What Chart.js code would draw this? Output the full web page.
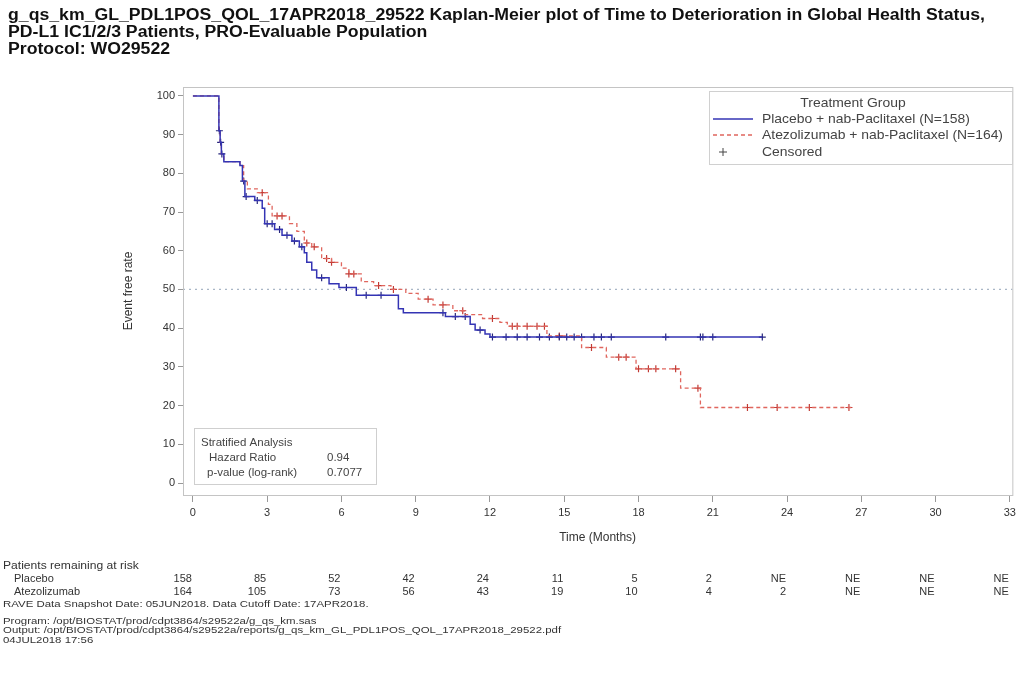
<!DOCTYPE html>
<html>
<head>
<meta charset="utf-8">
<script src="https://cdn.jsdelivr.net/npm/chart.js@4.4.1/dist/chart.umd.min.js"></script>
<style>
  html, body { margin: 0; padding: 0; background: #fff; }
  #wrap { width: 1020px; height: 681px; }
</style>
</head>
<body>
<div id="wrap"><canvas id="km" width="1020" height="681"></canvas></div>
<script>
// axis ticks
var timeTicks = [0, 3, 6, 9, 12, 15, 18, 21, 24, 27, 30, 33];
var rateTicks = [0, 10, 20, 30, 40, 50, 60, 70, 80, 90, 100];

// Kaplan-Meier steps
var placeboTime = [0, 1.05, 1.1, 1.15, 1.25, 1.9, 2.0, 2.1, 2.5, 2.8, 2.9, 3.3, 3.6, 4.0, 4.3, 4.5, 4.6, 4.8, 5.0, 5.5, 5.9, 6.6, 8.3, 8.5, 10.2, 11.2, 11.4, 11.8, 12.0, 23.0];
var placeboRate = [100, 91, 88, 85, 83, 82, 78, 74, 73, 71, 67, 65.5, 64, 62.5, 61, 59.5, 57, 55, 53, 51.5, 50.5, 48.5, 45, 44, 43, 41, 39.5, 38.5, 37.7, 37.7];

var atezoTime = [0, 1.05, 1.1, 1.15, 1.25, 1.9, 2.05, 2.2, 2.6, 3.05, 3.2, 3.9, 4.2, 4.5, 4.8, 5.2, 5.6, 6.0, 6.3, 6.8, 7.3, 8.0, 8.6, 9.1, 9.7, 10.5, 11.0, 11.7, 12.4, 12.7, 14.3, 15.7, 16.7, 17.9, 19.7, 20.5, 26.6];
var atezoRate = [100, 91, 88, 85, 83, 82, 78, 76, 75, 72, 69, 67, 65, 62, 61, 58, 57, 55.5, 54, 52, 51, 50, 49, 47.5, 46, 44.5, 43.5, 42.5, 41.5, 40.5, 38, 35, 32.5, 29.5, 24.5, 19.5, 19.5];

// censored marks
var placeboCensTime = [1.07, 1.12, 1.17, 2.05, 2.15, 2.6, 3.0, 3.2, 3.5, 3.8, 4.1, 4.4, 5.2, 6.2, 7.0, 7.6, 10.1, 10.6, 11.0, 11.6, 12.1, 12.65, 13.1, 13.5, 14.0, 14.4, 14.8, 15.1, 15.4, 15.7, 16.2, 16.5, 16.9, 19.1, 20.5, 20.6, 21.0, 23.0];
var placeboCensRate = [91, 88, 85, 78, 74, 73, 67, 67, 65.5, 64, 62.5, 61, 53, 50.5, 48.5, 48.5, 44, 43, 43, 39.5, 37.7, 37.7, 37.7, 37.7, 37.7, 37.7, 37.7, 37.7, 37.7, 37.7, 37.7, 37.7, 37.7, 37.7, 37.7, 37.7, 37.7, 37.7];
var atezoCensTime = [2.8, 3.4, 3.6, 4.6, 4.9, 5.4, 5.6, 6.3, 6.5, 7.5, 8.1, 9.5, 10.1, 10.9, 12.1, 12.9, 13.1, 13.5, 13.9, 14.2, 14.8, 16.1, 17.2, 17.5, 18.0, 18.4, 18.7, 19.5, 20.4, 22.4, 23.6, 24.9, 26.5];
var atezoCensRate = [75, 69, 69, 62, 61, 58, 57, 54, 54, 51, 50, 47.5, 46, 44.5, 42.5, 40.5, 40.5, 40.5, 40.5, 40.5, 38, 35, 32.5, 32.5, 29.5, 29.5, 29.5, 29.5, 24.5, 19.5, 19.5, 19.5, 19.5];

// patients at risk
var riskPlacebo = ['158', '85', '52', '42', '24', '11', '5', '2', 'NE', 'NE', 'NE', 'NE'];
var riskAtezo = ['164', '105', '73', '56', '43', '19', '10', '4', '2', 'NE', 'NE', 'NE'];

var medianLine = 50;
var hazardRatio = '0.94';
var pValue = '0.7077';

var titleLines = [
  'g_qs_km_GL_PDL1POS_QOL_17APR2018_29522 Kaplan-Meier plot of Time to Deterioration in Global Health Status,',
  'PD-L1 IC1/2/3 Patients, PRO-Evaluable Population',
  'Protocol: WO29522'
];
var footLines = [
  'RAVE Data Snapshot Date: 05JUN2018. Data Cutoff Date: 17APR2018.',
  'Program: /opt/BIOSTAT/prod/cdpt3864/s29522a/g_qs_km.sas',
  'Output: /opt/BIOSTAT/prod/cdpt3864/s29522a/reports/g_qs_km_GL_PDL1POS_QOL_17APR2018_29522.pdf',
  '04JUL2018 17:56'
];

var FONT = '"Liberation Sans", Arial, sans-serif';
var blue = '#3434b4';
var red = '#e0665e';

function pairs(xs, ys) {
  var out = [];
  for (var i = 0; i < xs.length; i++) out.push({ x: xs[i], y: ys[i] });
  return out;
}

// text drawn a bit wider than the font, like the SAS output
function wideText(ctx, text, x, y, sx) {
  ctx.save();
  ctx.translate(x, y);
  ctx.scale(sx, 1);
  ctx.fillText(text, 0, 0);
  ctx.restore();
}

var decor = {
  id: 'decor',
  beforeDatasetsDraw: function (chart) {
    var ctx = chart.ctx;
    var a = chart.chartArea;
    var y50 = chart.scales.y.getPixelForValue(medianLine);
    ctx.save();
    ctx.strokeStyle = '#a9b6c6';
    ctx.lineWidth = 1.2;
    ctx.setLineDash([2, 4]);
    ctx.beginPath();
    ctx.moveTo(a.left, y50);
    ctx.lineTo(a.right, y50);
    ctx.stroke();
    ctx.restore();
  },
  afterDraw: function (chart) {
    var ctx = chart.ctx;
    var a = chart.chartArea;
    var xs = chart.scales.x;
    ctx.save();

    // frame
    ctx.strokeStyle = '#c4c4c4';
    ctx.lineWidth = 1;
    ctx.strokeRect(a.left + 0.5, a.top + 0.5, a.width, a.height);

    // title
    ctx.fillStyle = '#111';
    ctx.textAlign = 'left';
    ctx.textBaseline = 'alphabetic';
    ctx.font = 'bold 16px ' + FONT;
    var sx = 977 / ctx.measureText(titleLines[0]).width;
    wideText(ctx, titleLines[0], 8, 20, sx);
    wideText(ctx, titleLines[1], 8, 37, sx);
    wideText(ctx, titleLines[2], 8, 54, sx);

    // legend
    ctx.strokeStyle = '#d0d0d0';
    ctx.strokeRect(709.5, 91.5, 303, 73);
    ctx.font = '13px ' + FONT;
    ctx.fillStyle = '#444';
    ctx.textBaseline = 'middle';
    var lx = 241 / ctx.measureText('Atezolizumab + nab-Paclitaxel (N=164)').width;
    ctx.textAlign = 'center';
    wideText(ctx, 'Treatment Group', 853, 103, lx);
    ctx.textAlign = 'left';
    wideText(ctx, 'Placebo + nab-Paclitaxel (N=158)', 762, 119, lx);
    wideText(ctx, 'Atezolizumab + nab-Paclitaxel (N=164)', 762, 135, lx);
    wideText(ctx, 'Censored', 762, 152, lx);
    ctx.lineWidth = 1.5;
    ctx.strokeStyle = blue;
    ctx.beginPath(); ctx.moveTo(713, 119); ctx.lineTo(753, 119); ctx.stroke();
    ctx.strokeStyle = red;
    ctx.setLineDash([4, 3]);
    ctx.beginPath(); ctx.moveTo(713, 135); ctx.lineTo(753, 135); ctx.stroke();
    ctx.setLineDash([]);
    ctx.strokeStyle = '#444';
    ctx.lineWidth = 1;
    ctx.beginPath();
    ctx.moveTo(723, 148); ctx.lineTo(723, 156);
    ctx.moveTo(719, 152); ctx.lineTo(727, 152);
    ctx.stroke();

    // stratified analysis box
    ctx.strokeStyle = '#cfcfcf';
    ctx.strokeRect(194.5, 428.5, 182, 56);
    ctx.fillStyle = '#444';
    ctx.font = '11.5px ' + FONT;
    ctx.fillText('Stratified Analysis', 201, 443);
    ctx.fillText('Hazard Ratio', 209, 458);
    ctx.fillText('p-value (log-rank)', 207, 473);
    ctx.fillText(hazardRatio, 327, 458);
    ctx.fillText(pValue, 327, 473);

    // risk table
    ctx.fillStyle = '#333';
    ctx.font = '11px ' + FONT;
    wideText(ctx, 'Patients remaining at risk', 3, 566, 1.1);
    ctx.fillText('Placebo', 14, 579);
    ctx.fillText('Atezolizumab', 14, 592);
    ctx.textAlign = 'right';
    for (var i = 0; i < timeTicks.length; i++) {
      var px = xs.getPixelForValue(timeTicks[i]) - 1;
      ctx.fillText(riskPlacebo[i], px, 579);
      ctx.fillText(riskAtezo[i], px, 592);
    }
    ctx.textAlign = 'left';

    // footnotes
    ctx.font = '9px ' + FONT;
    wideText(ctx, footLines[0], 3, 605, 1.27);
    wideText(ctx, footLines[1], 3, 622, 1.27);
    wideText(ctx, footLines[2], 3, 631, 1.27);
    wideText(ctx, footLines[3], 3, 641, 1.27);
    ctx.restore();
  }
};

new Chart(document.getElementById('km'), {
  type: 'scatter',
  data: {
    datasets: [
      {
        label: 'Placebo + nab-Paclitaxel (N=158)',
        data: pairs(placeboTime, placeboRate),
        showLine: true,
        stepped: 'before',
        borderColor: blue,
        borderWidth: 1.5,
        pointRadius: 0
      },
      {
        label: 'Atezolizumab + nab-Paclitaxel (N=164)',
        data: pairs(atezoTime, atezoRate),
        showLine: true,
        stepped: 'before',
        borderColor: red,
        borderWidth: 1.3,
        borderDash: [4, 3],
        pointRadius: 0
      },
      {
        label: 'Censored placebo',
        data: pairs(placeboCensTime, placeboCensRate),
        pointStyle: 'cross',
        pointRadius: 3.5,
        borderWidth: 1.2,
        borderColor: '#26267a'
      },
      {
        label: 'Censored atezolizumab',
        data: pairs(atezoCensTime, atezoCensRate),
        pointStyle: 'cross',
        pointRadius: 3.5,
        borderWidth: 1.2,
        borderColor: '#c23a34'
      }
    ]
  },
  options: {
    responsive: false,
    animation: false,
    events: [],
    layout: { padding: { top: 87, right: 5, left: 115, bottom: 136 } },
    plugins: {
      legend: { display: false },
      tooltip: { enabled: false }
    },
    scales: {
      x: {
        type: 'linear',
        min: -0.4,
        max: 33.1,
        afterBuildTicks: function (s) { s.ticks = timeTicks.map(function (v) { return { value: v }; }); },
        afterFit: function (s) { s.height = 50; },
        grid: { drawOnChartArea: false, tickLength: 7, color: '#999' },
        border: { color: '#c4c4c4' },
        ticks: { font: { family: FONT, size: 11 }, color: '#333', padding: 4, maxRotation: 0 },
        title: { display: true, text: 'Time (Months)', font: { family: FONT, size: 12 }, color: '#333', padding: { top: 4, bottom: 0 } }
      },
      y: {
        min: -3.1,
        max: 102.3,
        afterBuildTicks: function (s) { s.ticks = rateTicks.map(function (v) { return { value: v }; }); },
        afterFit: function (s) { s.width = 68; },
        grid: { drawOnChartArea: false, tickLength: 5, color: '#999' },
        border: { color: '#c4c4c4' },
        ticks: { font: { family: FONT, size: 11 }, color: '#333', padding: 3 },
        title: { display: true, text: 'Event free rate', font: { family: FONT, size: 12 }, color: '#333', padding: { top: 6, bottom: 0 } }
      }
    }
  },
  plugins: [decor]
});
</script>
</body>
</html>
